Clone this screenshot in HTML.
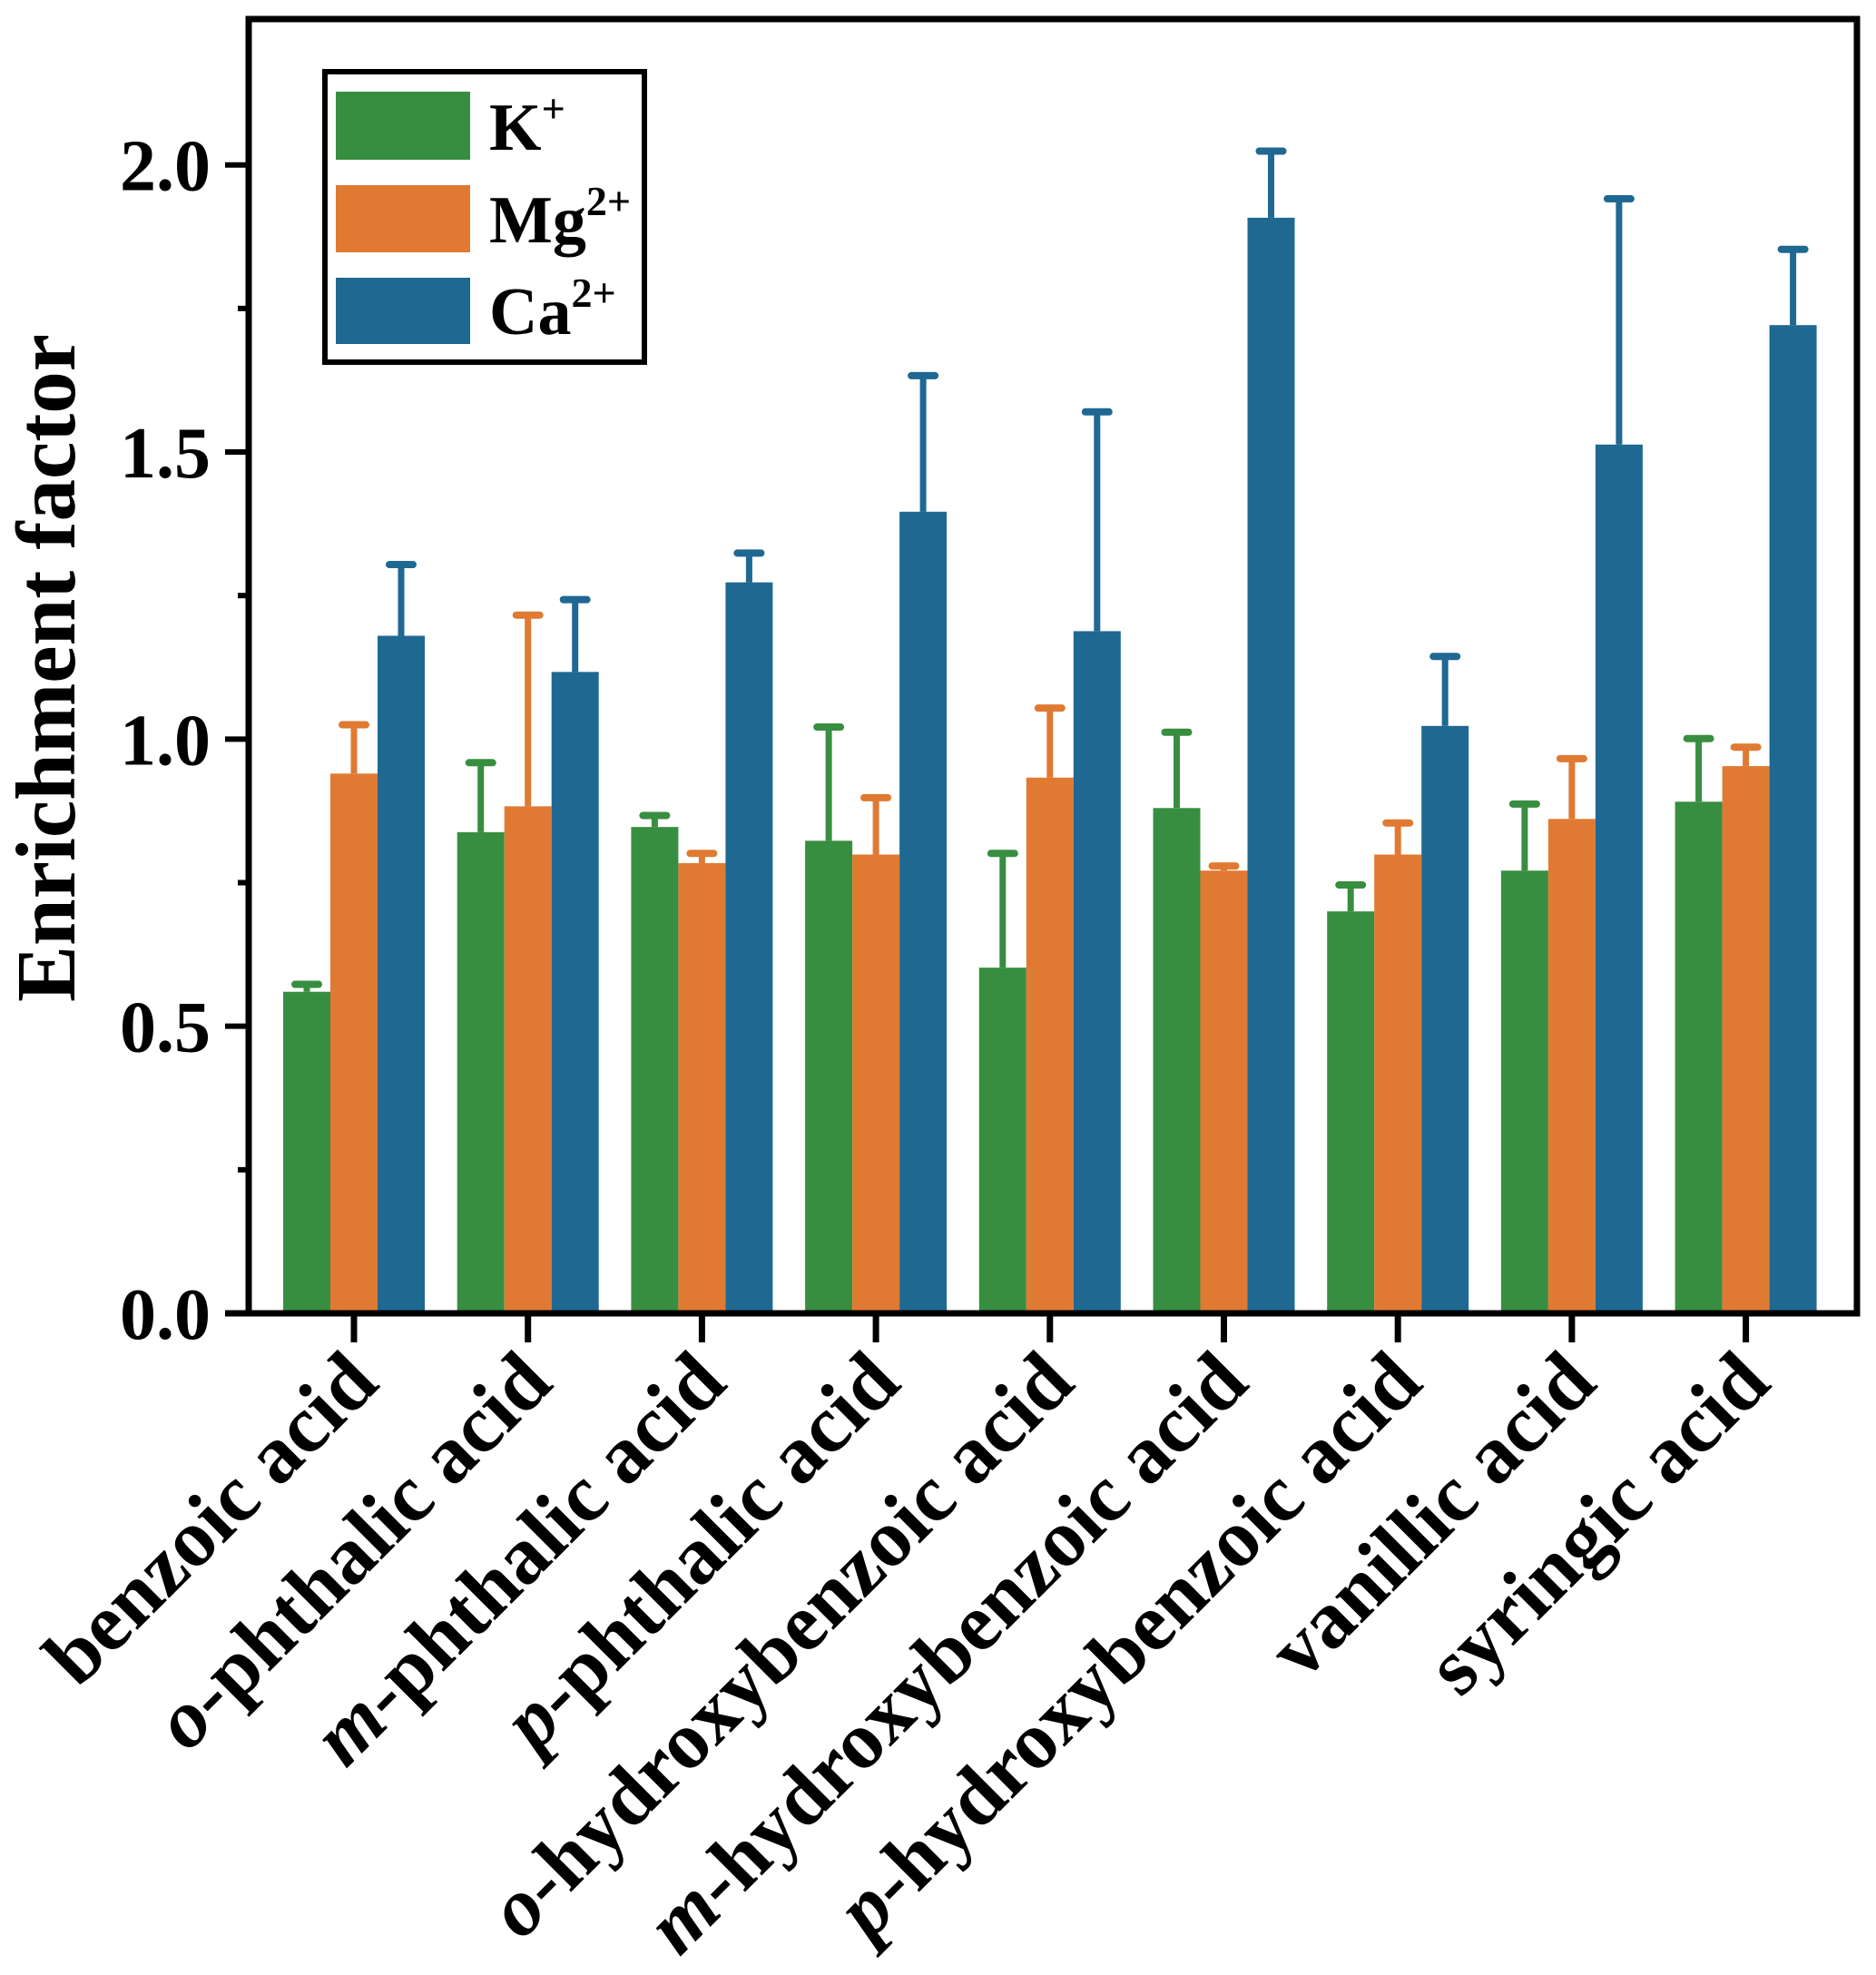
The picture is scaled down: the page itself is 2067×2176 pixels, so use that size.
<!DOCTYPE html>
<html><head><meta charset="utf-8">
<style>
html,body{margin:0;padding:0;background:#fff;}
svg{display:block;font-family:"Liberation Serif",serif;font-weight:bold;}
</style></head>
<body>
<svg id="chart" width="2067" height="2176" viewBox="0 0 2067 2176" xmlns="http://www.w3.org/2000/svg">
<g id="bars"></g>
<g id="axes"></g>
<text transform="translate(82,736) rotate(-90)" text-anchor="middle" font-size="93">Enrichment factor</text>
<g>
<rect x="358" y="79" width="352" height="320" fill="#fff" stroke="#000" stroke-width="6"/>
<rect x="370" y="101" width="148" height="75" fill="#388e40"/>
<rect x="370" y="204" width="148" height="74" fill="#e07a32"/>
<rect x="370" y="306" width="148" height="73" fill="#1f6892"/>
<text x="539" y="165" font-size="74">K<tspan font-size="46" dy="-30">+</tspan></text>
<text x="539" y="267" font-size="74">Mg<tspan font-size="46" dy="-30">2+</tspan></text>
<text x="539" y="368" font-size="74">Ca<tspan font-size="46" dy="-30">2+</tspan></text>
</g>
</svg>
<script>
const categories = ["benzoic acid","o-phthalic acid","m-phthalic acid","p-phthalic acid","o-hydroxybenzoic acid","m-hydroxybenzoic acid","p-hydroxybenzoic acid","vanillic acid","syringic acid"];
const prefixes = ["","o","m","p","o","m","p","",""];
const kValues = [0.56,0.838,0.847,0.823,0.602,0.880,0.700,0.771,0.891];
const kErrors = [0.013,0.121,0.020,0.198,0.199,0.132,0.046,0.116,0.110];
const mgValues = [0.94,0.883,0.784,0.799,0.933,0.771,0.799,0.861,0.953];
const mgErrors = [0.085,0.333,0.017,0.099,0.121,0.008,0.055,0.105,0.033];
const caValues = [1.18,1.117,1.273,1.396,1.188,1.908,1.023,1.513,1.721];
const caErrors = [0.124,0.126,0.051,0.237,0.382,0.116,0.121,0.428,0.132];
const yTicks = [0,0.5,1.0,1.5,2.0];
const yTickLabels = ["0.0","0.5","1.0","1.5","2.0"];
const yMinorTicks = [0.25,0.75,1.25,1.75];

const NS="http://www.w3.org/2000/svg";
const L=274,R=2046,T=21,B=1447;
const yMin=0,yMax=2.254;
function yScale(v){return B-(v-yMin)/(yMax-yMin)*(B-T);}
const firstCenter=390,step=191.7;
function xScale(i){return firstCenter+i*step;}
const bw=52;
function mk(tag,attrs,parent){const e=document.createElementNS(NS,tag);for(const k in attrs)e.setAttribute(k,attrs[k]);parent.appendChild(e);return e;}
const bars=document.getElementById('bars');
const axes=document.getElementById('axes');
const series=[["k",kValues,kErrors,"#388e40",-1],["mg",mgValues,mgErrors,"#e07a32",0],["ca",caValues,caErrors,"#1f6892",1]];
series.forEach(s=>{
  s[1].forEach((v,i)=>{
    const cx=xScale(i)+s[4]*bw;
    const top=yScale(v+s[2][i]);
    const eb=mk('g',{},bars);
    
    
    mk('line',{x1:cx,x2:cx,y1:yScale(v),y2:top,stroke:s[3],'stroke-width':7},eb);
    mk('line',{x1:cx-13,x2:cx+13,y1:top,y2:top,stroke:s[3],'stroke-width':8,'stroke-linecap':'round'},eb);
    const r=mk('rect',{x:cx-bw/2,y:yScale(v),width:bw,height:B-yScale(v),fill:s[3]},bars);
    
    
  });
});
const fr=mk('rect',{x:L,y:T,width:R-L,height:B-T,fill:'none',stroke:'#000','stroke-width':7},axes);


mk('line',{x1:248,x2:L,y1:B,y2:B,stroke:'#000','stroke-width':7},axes);
yTicks.forEach((t,i)=>{
  const y=yScale(t);
  const tk=mk('line',{x1:248,x2:L,y1:y,y2:y,stroke:'#000','stroke-width':6},axes);
  
  
  const tx=mk('text',{x:232,y:y+28,'text-anchor':'end','font-size':80},axes);
  
  
  tx.textContent=yTickLabels[i];
});
yMinorTicks.forEach(t=>{
  const y=yScale(t);
  const tk=mk('line',{x1:262,x2:L,y1:y,y2:y,stroke:'#000','stroke-width':6},axes);
  
  
});
categories.forEach((c,i)=>{
  const x=xScale(i);
  const tk=mk('line',{x1:x,x2:x,y1:B,y2:B+32,stroke:'#000','stroke-width':7},axes);
  
  
  const tx=mk('text',{transform:'translate('+(x+30)+','+(B+80)+') rotate(-45)','text-anchor':'end','font-size':90},axes);
  
  
  const p=prefixes[i];
  if(p){
    const ts=document.createElementNS(NS,'tspan');
    ts.setAttribute('font-style','italic');
    ts.textContent=p;
    tx.appendChild(ts);
    tx.appendChild(document.createTextNode(c.slice(1)));
  } else tx.textContent=c;
});
</script>
</body></html>
